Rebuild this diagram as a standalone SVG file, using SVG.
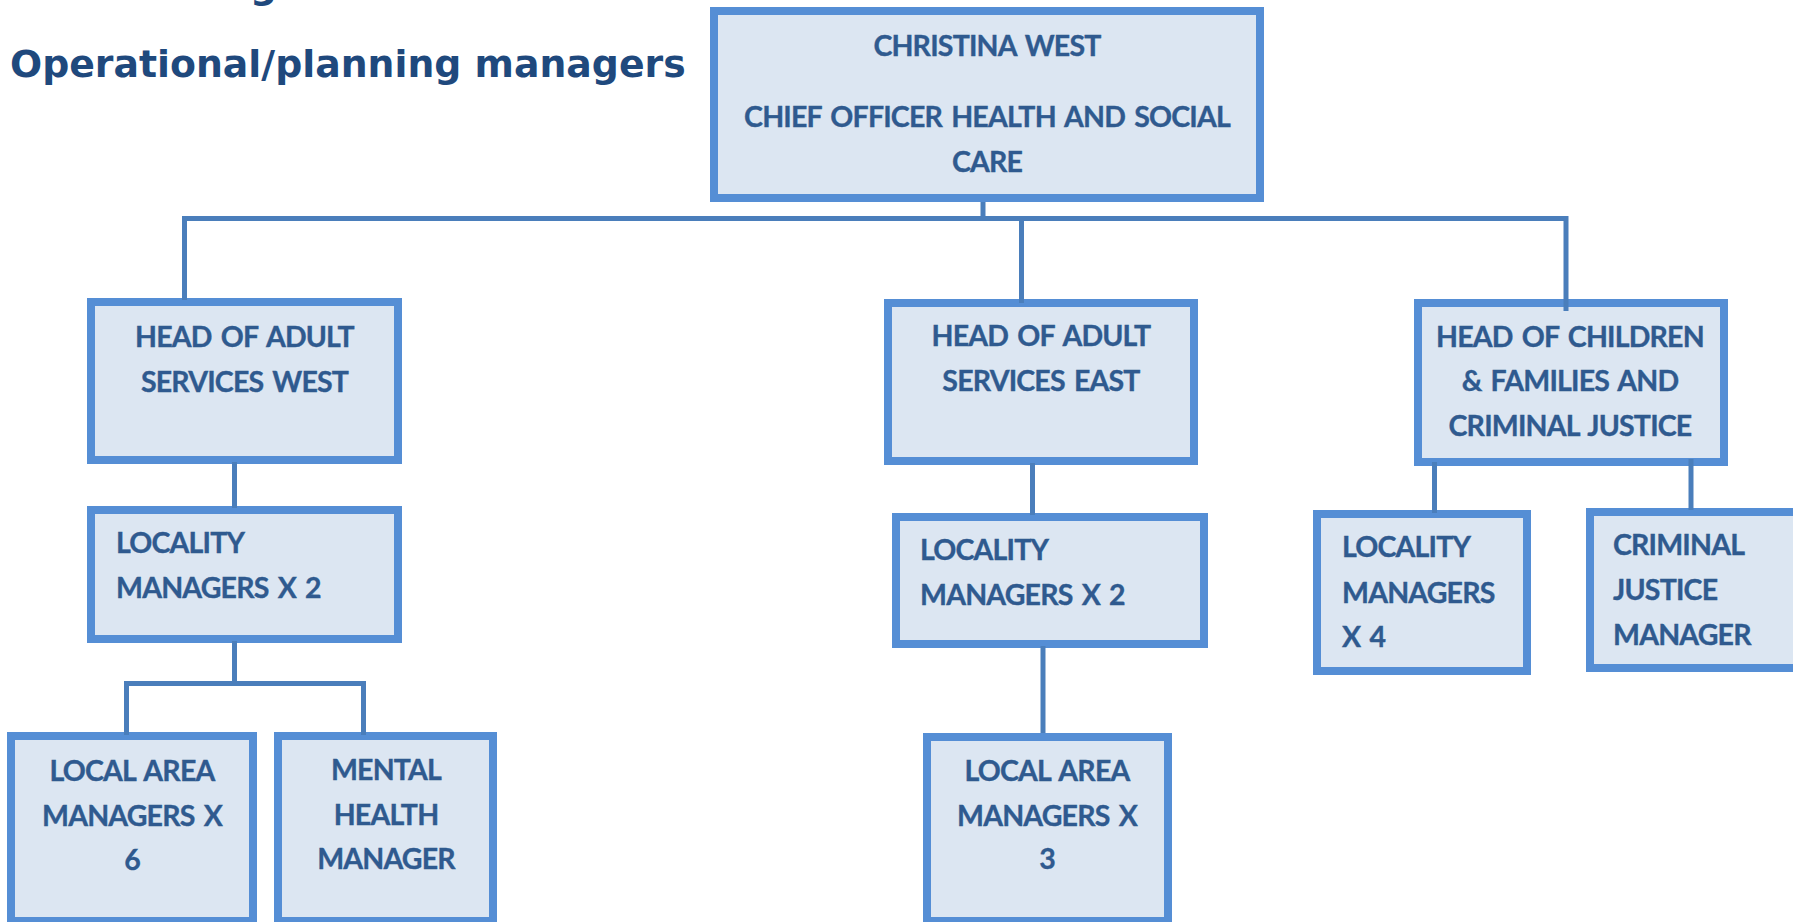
<svg xmlns="http://www.w3.org/2000/svg" width="1793" height="922" viewBox="0 0 1793 922">
<style>
.box{fill:#DCE6F2;stroke:#558ED5;stroke-width:8}
.t{font-family:Lato,"Liberation Sans",sans-serif;font-weight:700;font-size:28.5px;letter-spacing:-0.8px;word-spacing:3px;fill:#2F5A8F;stroke:#2F5A8F;stroke-width:0.35px}
.c{text-anchor:middle}
.title{font-family:"DejaVu Sans",Verdana,sans-serif;font-weight:700;font-size:37.8px;fill:#1F497D}
.conn{fill:none;stroke:#4A7EBB;stroke-width:5}
</style>
<rect width="1793" height="922" fill="#FFFFFF"/>
<text class="title" x="250" y="-2">g</text>
<text class="title" x="10" y="77">Operational/planning managers</text>

<g id="chief">
<rect class="box" x="714" y="11" width="546" height="187"/>
<text class="t c" x="987" y="56">CHRISTINA WEST</text>
<text class="t c" x="987" y="127">CHIEF OFFICER HEALTH AND SOCIAL</text>
<text class="t c" x="987" y="172">CARE</text>
</g>
<g id="head-west">
<rect class="box" x="91" y="302" width="307" height="158"/>
<text class="t c" x="244.5" y="347">HEAD OF ADULT</text>
<text class="t c" x="244.5" y="392">SERVICES WEST</text>
</g>
<g id="locality-west">
<rect class="box" x="91" y="510" width="307" height="129"/>
<text class="t" x="116" y="553">LOCALITY</text>
<text class="t" x="116" y="598">MANAGERS X 2</text>
</g>
<g id="local-area-6">
<rect class="box" x="11" y="736" width="242" height="185"/>
<text class="t c" x="132" y="781">LOCAL AREA</text>
<text class="t c" x="132" y="826">MANAGERS X</text>
<text class="t c" x="132" y="870">6</text>
</g>
<g id="mental-health">
<rect class="box" x="278" y="736" width="215" height="185"/>
<text class="t c" x="386" y="780">MENTAL</text>
<text class="t c" x="386" y="825">HEALTH</text>
<text class="t c" x="386" y="869">MANAGER</text>
</g>
<g id="head-east">
<rect class="box" x="888" y="303" width="306" height="158"/>
<text class="t c" x="1041" y="346">HEAD OF ADULT</text>
<text class="t c" x="1041" y="391">SERVICES EAST</text>
</g>
<g id="locality-east">
<rect class="box" x="896" y="517" width="308" height="127"/>
<text class="t" x="920" y="560">LOCALITY</text>
<text class="t" x="920" y="605">MANAGERS X 2</text>
</g>
<g id="local-area-3">
<rect class="box" x="927" y="737" width="241" height="184"/>
<text class="t c" x="1047" y="781">LOCAL AREA</text>
<text class="t c" x="1047" y="826">MANAGERS X</text>
<text class="t c" x="1047" y="869">3</text>
</g>
<g id="head-children">
<rect class="box" x="1418" y="303" width="306" height="159"/>
<text class="t c" x="1570" y="347">HEAD OF CHILDREN</text>
<text class="t c" x="1570" y="391">&amp; FAMILIES AND</text>
<text class="t c" x="1570" y="436">CRIMINAL JUSTICE</text>
</g>
<g id="locality-4">
<rect class="box" x="1317" y="514" width="210" height="157"/>
<text class="t" x="1342" y="557">LOCALITY</text>
<text class="t" x="1342" y="603">MANAGERS</text>
<text class="t" x="1342" y="647">X 4</text>
</g>
<g id="cj-manager">
<rect class="box" x="1590" y="512" width="210" height="156"/>
<text class="t" x="1613" y="555">CRIMINAL</text>
<text class="t" x="1613" y="600">JUSTICE</text>
<text class="t" x="1613" y="645">MANAGER</text>
</g>

<g id="connectors">
<path class="conn" d="M983 202V219"/>
<path class="conn" d="M184.5 300V218.5H1566V311"/>
<path class="conn" d="M1021.5 219V303"/>
<path class="conn" d="M234.5 462V508"/>
<path class="conn" d="M234.5 641V683.5"/>
<path class="conn" d="M126.5 735V683.5H363.5V735"/>
<path class="conn" d="M1032.5 463V515"/>
<path class="conn" d="M1043 646V733"/>
<path class="conn" d="M1434.5 462V513"/>
<path class="conn" d="M1691 459V510"/>
</g>
</svg>
